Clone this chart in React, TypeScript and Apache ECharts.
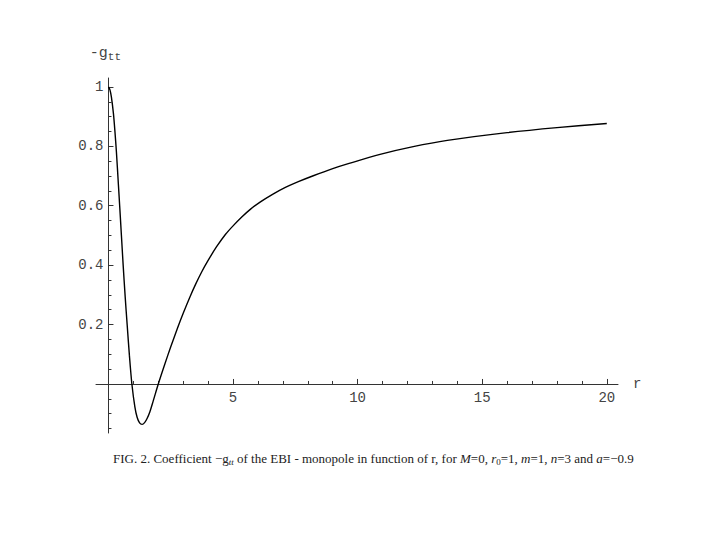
import React, { useEffect, useRef } from "react";
import * as echarts from "echarts";

// Curve of -g_tt as a function of r
const rValues = [0, 0.06, 0.12, 0.2, 0.26, 0.32, 0.4, 0.45, 0.52, 0.59, 0.67, 0.75, 0.84, 0.94, 1.06, 1.15, 1.25, 1.35, 1.45, 1.55, 1.66, 1.8, 2.0, 2.25, 2.5, 2.78, 3.0, 3.27, 3.5, 3.74, 4.0, 4.34, 4.7, 5.01, 5.35, 5.68, 6.1, 6.62, 7.1, 7.62, 8.22, 9.0, 9.56, 10.9, 12.23, 13.6, 16.0, 18.0, 20.0];
const gValues = [1.0, 0.99, 0.965, 0.91, 0.85, 0.78, 0.67, 0.6, 0.5, 0.4, 0.295, 0.2, 0.097, 0.0, -0.077, -0.112, -0.131, -0.136, -0.13, -0.116, -0.094, -0.056, 0.0, 0.064, 0.125, 0.19, 0.238, 0.293, 0.336, 0.377, 0.416, 0.462, 0.504, 0.533, 0.562, 0.587, 0.613, 0.64, 0.662, 0.681, 0.701, 0.725, 0.74, 0.773, 0.799, 0.82, 0.846, 0.863, 0.877];

const xLabelTicks = [5, 10, 15, 20];
const xMinorTicks = [1, 2, 3, 4, 5, 6, 7, 8, 9, 10, 11, 12, 13, 14, 15, 16, 17, 18, 19, 20];
const yLabelTicks = [0.2, 0.4, 0.6, 0.8, 1];
const yMinorTicks = [-0.15, -0.1, -0.05, 0.05, 0.1, 0.15, 0.2, 0.25, 0.3, 0.35, 0.4, 0.45, 0.5, 0.55, 0.6, 0.65, 0.7, 0.75, 0.8, 0.85, 0.9, 0.95, 1.0];

const X_MIN = -0.5;
const X_MAX = 20.45;
const Y_MIN = -0.165;
const Y_MAX = 1.03;

const GRID_LEFT = 96;
const GRID_TOP = 78;
const GRID_W = 522;
const GRID_H = 355;
// shift the axes so that they cross at (0, 0), as in the figure
const X_AXIS_OFFSET = -((GRID_H * (0 - Y_MIN)) / (Y_MAX - Y_MIN));
const Y_AXIS_OFFSET = -((GRID_W * (0 - X_MIN)) / (X_MAX - X_MIN));

const MONO = "Liberation Mono";
const AXIS_COLOR = "#333";
const LABEL_COLOR = "#444";

export default function App() {
  const ref = useRef<HTMLDivElement>(null);
  useEffect(() => {
    if (!ref.current) return;
    const chart = echarts.init(ref.current, null, { renderer: "svg" });
    const data = rValues.map((r, i) => [r, gValues[i]]);
    chart.setOption({
      animation: false,
      backgroundColor: "#ffffff",
      grid: { left: GRID_LEFT, top: GRID_TOP, width: GRID_W, height: GRID_H, containLabel: false },
      xAxis: [
        {
          type: "value",
          min: X_MIN,
          max: X_MAX,
          position: "bottom",
          offset: X_AXIS_OFFSET,
          name: "r",
          nameLocation: "end",
          nameGap: 15,
          nameTextStyle: { fontFamily: MONO, fontSize: 14, color: LABEL_COLOR },
          axisLine: { show: true, onZero: false, lineStyle: { color: AXIS_COLOR, width: 1 } },
          axisTick: { show: true, inside: true, length: 5, customValues: xLabelTicks, lineStyle: { color: AXIS_COLOR } },
          axisLabel: { show: true, customValues: xLabelTicks, margin: 7, fontFamily: MONO, fontSize: 14, color: LABEL_COLOR },
          splitLine: { show: false },
        },
        {
          type: "value",
          min: X_MIN,
          max: X_MAX,
          position: "bottom",
          offset: X_AXIS_OFFSET,
          axisLine: { show: false, onZero: false },
          axisTick: { show: true, inside: true, length: 3, customValues: xMinorTicks, lineStyle: { color: AXIS_COLOR } },
          axisLabel: { show: false },
          splitLine: { show: false },
        },
      ],
      yAxis: [
        {
          type: "value",
          min: Y_MIN,
          max: Y_MAX,
          position: "left",
          offset: Y_AXIS_OFFSET,
          name: "{a|-g}{s|tt}",
          nameLocation: "end",
          nameGap: 16,
          nameTextStyle: {
            padding: [0, 6, 0, 0],
            rich: {
              a: { fontFamily: MONO, fontSize: 15, color: LABEL_COLOR, lineHeight: 18, verticalAlign: "middle" },
              s: { fontFamily: MONO, fontSize: 11, color: LABEL_COLOR, padding: [7, 0, 0, 0] },
            },
          },
          axisLine: { show: true, onZero: false, lineStyle: { color: AXIS_COLOR, width: 1 } },
          axisTick: { show: true, inside: true, length: 5, customValues: yLabelTicks, lineStyle: { color: AXIS_COLOR } },
          axisLabel: {
            show: true,
            customValues: yLabelTicks,
            margin: 5,
            fontFamily: MONO,
            fontSize: 14,
            color: LABEL_COLOR,
            formatter: (v: number) => (Math.abs(v - 1) < 1e-9 ? "1" : String(Math.round(v * 10) / 10)),
          },
          splitLine: { show: false },
        },
        {
          type: "value",
          min: Y_MIN,
          max: Y_MAX,
          position: "left",
          offset: Y_AXIS_OFFSET,
          axisLine: { show: false, onZero: false },
          axisTick: { show: true, inside: true, length: 3, customValues: yMinorTicks, lineStyle: { color: AXIS_COLOR } },
          axisLabel: { show: false },
          splitLine: { show: false },
        },
      ],
      series: [
        {
          type: "line",
          xAxisIndex: 0,
          yAxisIndex: 0,
          data,
          smooth: 0.3,
          showSymbol: false,
          lineStyle: { color: "#000", width: 1.4 },
        },
      ],
      graphic: [
        {
          type: "text",
          left: 113,
          top: 452,
          style: {
            text:
              "{n|FIG. 2. Coefficient −g}{si|tt}{n| of the EBI - monopole in function of r, for }{i|M}{n|=0, }{i|r}{sub|0}{n|=1, }{i|m}{n|=1, }{i|n}{n|=3 and }{i|a}{n|=−0.9}",
            rich: {
              n: { fontFamily: "Liberation Serif", fontSize: 13, fill: "#222", lineHeight: 18 },
              i: { fontFamily: "Liberation Serif", fontSize: 13, fontStyle: "italic", fill: "#222", lineHeight: 18 },
              si: { fontFamily: "Liberation Serif", fontSize: 9, fontStyle: "italic", fill: "#222", padding: [6, 0, 0, 0] },
              sub: { fontFamily: "Liberation Serif", fontSize: 9, fill: "#222", padding: [6, 0, 0, 0] },
            },
          },
        },
      ],
    });
    return () => chart.dispose();
  }, []);
  return (
    <div
      ref={ref}
      style={{ position: "fixed", left: 0, top: 0, width: 720, height: 540, background: "#fff" }}
    />
  );
}
